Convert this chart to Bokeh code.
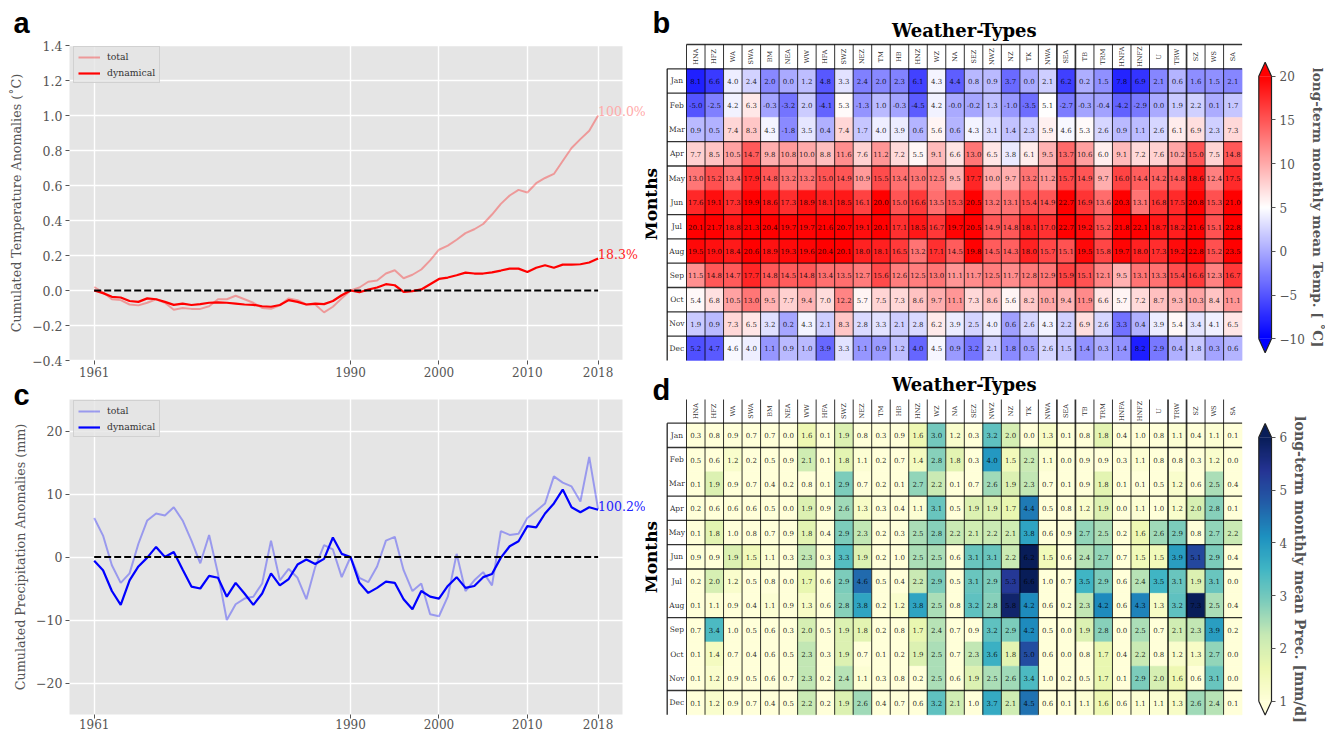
import numpy as np
from bokeh.core.properties import value
from bokeh.embed import file_html
from bokeh.layouts import column, row
from bokeh.models import ColumnDataSource, FixedTicker, Legend, LegendItem, LinearColorMapper, Range1d
from bokeh.plotting import figure
from bokeh.resources import INLINE
from bokeh.transform import transform

years = list(range(1961, 2019))

temp_total = [0.02,-0.01,-0.05,-0.055,-0.08,-0.085,-0.07,-0.05,-0.07,-0.11,-0.10,-0.105,-0.105,-0.09,-0.05,-0.05,-0.03,-0.05,-0.07,-0.10,-0.105,-0.085,-0.045,-0.055,-0.08,-0.08,-0.125,-0.093,-0.045,0.0,0.017,0.05,0.057,0.097,0.116,0.07,0.09,0.12,0.172,0.233,0.256,0.29,0.328,0.35,0.38,0.434,0.495,0.543,0.575,0.56,0.613,0.643,0.666,0.74,0.814,0.865,0.913,1.0]
temp_dyn = [0.0,-0.015,-0.036,-0.04,-0.06,-0.065,-0.045,-0.05,-0.065,-0.082,-0.075,-0.083,-0.078,-0.07,-0.068,-0.07,-0.075,-0.08,-0.082,-0.09,-0.093,-0.083,-0.055,-0.065,-0.08,-0.075,-0.078,-0.06,-0.027,0.0,-0.01,0.005,0.017,0.036,0.03,-0.008,-0.004,0.006,0.036,0.066,0.074,0.087,0.102,0.097,0.097,0.104,0.114,0.125,0.125,0.106,0.13,0.144,0.13,0.148,0.148,0.15,0.16,0.183]
prec_total = [6.2,3.4,-1.3,-4.1,-2.6,2.1,5.8,6.9,6.6,7.9,5.8,2.6,-1.0,3.5,-2.6,-10.0,-7.5,-6.6,-6.3,-4.2,2.6,-3.7,-1.9,-3.3,-6.7,-1.6,1.9,1.2,-3.2,0.0,-3.3,-4.0,-1.5,2.6,3.2,-2.1,-5.4,-4.2,-9.1,-9.4,-6.3,0.5,-5.4,-3.7,-2.4,-4.5,4.1,3.5,3.7,6.2,7.3,8.5,12.8,11.8,11.2,8.8,15.9,7.6]
prec_dyn = [-0.6,-2.1,-5.4,-7.6,-3.7,-1.5,-0.1,1.6,0.0,0.8,-2.0,-4.7,-5.0,-3.0,-3.3,-6.3,-4.1,-5.8,-7.6,-5.8,-2.6,-4.5,-3.5,-1.2,-0.4,-1.1,-0.3,3.1,0.5,0.0,-4.1,-5.7,-4.9,-3.9,-4.1,-6.7,-8.3,-5.4,-6.3,-6.6,-4.6,-3.2,-4.9,-4.6,-3.2,-2.7,-0.1,1.7,2.5,4.9,4.7,6.9,8.5,10.7,7.9,7.1,7.9,7.5]

x_tick_years = [1961, 1990, 2000, 2010, 2018]
temp_ticks = [-0.4,-0.2,0.0,0.2,0.4,0.6,0.8,1.0,1.2,1.4]
prec_ticks = [-20,-10,0,10,20]

weather_types = ["HNA","HFZ","WA","SWA","BM","NEA","WW","HFA","SWZ","NEZ","TM","HB","HNZ","WZ","NA","SEZ","NWZ","NZ","TK","NWA","SEA","TB","TRM","HNFA","HNFZ","U","TRW","SZ","WS","SA"]
months = ["Jan","Feb","Mar","Apr","May","Jun","Jul","Aug","Sep","Oct","Nov","Dec"]
months_without_minus = {"Jan", "Nov", "Dec"}

temp_jan = [-8.1,-6.6,4.0,2.4,-2.0,0.0,1.2,-4.8,3.3,-2.4,-2.0,-2.3,-6.1,4.3,-4.4,0.8,0.9,-3.7,0.0,2.1,-6.2,0.2,-1.5,-7.8,-6.9,-2.1,0.6,-1.6,-1.5,-2.1]
temp_feb = [-5.0,-2.5,4.2,6.3,-0.3,-3.2,2.0,-4.1,5.3,-1.3,1.0,-0.3,-4.5,4.2,-0.0,-0.2,1.3,-1.0,-3.5,5.1,-2.7,-0.3,-0.4,-4.2,-2.9,0.0,1.9,2.2,0.1,1.7]
temp_mar = [0.9,0.5,7.4,8.3,4.3,-1.8,3.5,0.4,7.4,1.7,4.0,3.9,0.6,5.6,0.6,4.3,3.1,1.4,2.3,5.9,4.6,5.3,2.6,0.9,1.1,2.6,6.1,6.9,2.3,7.3]
temp_apr = [7.7,8.5,10.5,14.7,9.8,10.8,10.0,8.8,11.6,7.6,11.2,7.2,5.5,9.1,6.6,13.0,6.5,3.8,6.1,9.5,13.7,10.6,6.0,9.1,7.2,7.6,10.2,15.0,7.5,14.8]
temp_may = [13.0,15.2,13.4,17.9,14.8,13.2,13.2,15.0,14.9,10.9,15.5,13.4,13.0,12.5,9.5,17.7,10.0,9.7,13.2,11.2,15.7,14.9,9.7,16.0,14.4,14.2,14.8,18.6,12.4,17.5]
temp_jun = [17.6,19.1,17.3,19.9,18.6,17.3,18.9,18.1,18.5,16.1,20.0,15.0,16.6,13.5,15.3,20.5,13.2,13.1,15.4,14.9,22.7,16.9,13.6,20.3,13.1,16.8,17.5,20.8,15.3,21.0]
temp_jul = [20.1,21.7,18.8,21.3,20.4,19.7,19.7,21.6,20.7,19.1,20.1,17.1,18.5,16.7,19.7,20.5,14.9,14.8,18.1,17.0,22.7,19.2,15.2,21.8,22.1,18.7,18.2,21.6,15.1,22.8]
temp_aug = [19.5,19.0,18.4,20.6,18.9,19.3,19.6,20.4,20.1,18.0,18.1,16.5,13.2,17.1,14.5,19.8,14.5,14.3,18.0,15.7,15.1,19.5,15.8,19.7,18.0,17.3,19.2,22.8,15.2,23.5]
temp_sep = [11.5,14.8,14.7,17.7,14.8,14.5,14.8,13.4,13.5,12.7,15.6,12.6,12.5,13.0,11.1,11.7,12.5,11.7,12.8,12.9,15.9,15.1,12.1,9.5,13.1,13.3,15.4,16.6,12.3,16.7]
temp_oct = [5.4,6.8,10.5,13.0,9.5,7.7,9.4,7.0,12.2,5.7,7.5,7.3,8.6,9.7,11.1,7.3,8.6,5.6,8.2,10.1,9.4,11.9,6.6,5.7,7.2,8.7,9.3,10.3,8.4,11.1]
temp_nov = [1.9,0.9,7.3,6.5,3.2,-0.2,4.3,2.1,8.3,2.8,3.3,2.1,2.8,6.2,3.9,2.5,4.0,-0.6,2.6,4.3,2.2,6.9,2.6,-3.3,0.4,3.9,5.4,3.4,4.1,6.5]
temp_dec = [-5.2,-4.7,4.6,4.0,-1.1,0.9,1.0,-3.9,3.3,-1.1,-0.9,1.2,-4.0,4.5,-0.9,-3.2,2.1,-1.8,-0.5,2.6,1.5,-1.4,0.3,-1.4,-8.2,-2.9,0.4,1.8,-0.3,0.6]
temp_rows = [temp_jan,temp_feb,temp_mar,temp_apr,temp_may,temp_jun,temp_jul,temp_aug,temp_sep,temp_oct,temp_nov,temp_dec]

prec_jan = [0.3,0.8,0.9,0.7,0.7,0.0,1.6,0.1,1.9,0.8,0.3,0.9,1.6,3.0,1.2,0.3,3.2,2.0,0.0,1.3,0.1,0.8,1.8,0.4,1.0,0.8,1.1,0.4,1.1,0.1]
prec_feb = [0.5,0.6,1.2,0.2,0.5,0.9,2.1,0.1,1.8,1.1,0.2,0.7,1.4,2.8,1.8,0.3,4.0,1.5,2.2,1.1,0.0,0.9,0.9,0.3,1.1,0.8,0.8,0.3,1.2,0.0]
prec_mar = [0.1,1.9,0.9,0.7,0.4,0.2,0.8,0.1,2.9,0.7,0.2,0.1,2.7,2.2,0.1,0.7,2.6,1.9,2.3,0.7,0.1,0.9,1.8,0.1,0.1,0.5,1.2,0.6,2.5,0.4]
prec_apr = [0.2,0.6,0.6,0.6,0.5,0.0,1.9,0.9,2.6,1.3,0.3,0.4,1.1,3.1,0.5,1.9,1.9,1.7,4.4,0.5,0.8,1.2,1.9,0.0,1.1,1.0,1.2,2.0,2.8,0.1]
prec_may = [0.1,1.8,1.0,0.8,0.7,0.9,1.8,0.4,2.9,2.3,0.2,0.3,2.5,2.8,2.2,2.1,2.2,2.1,3.8,0.6,0.9,2.7,2.5,0.2,1.6,2.6,2.9,0.8,2.7,2.2]
prec_jun = [0.9,0.9,1.9,1.5,1.1,0.3,2.3,0.3,3.3,1.9,0.2,1.0,2.5,2.5,0.6,3.1,3.1,2.2,6.2,1.5,0.6,2.4,2.7,0.7,1.5,1.5,3.9,5.1,2.9,0.4]
prec_jul = [0.2,2.0,1.2,0.5,0.8,0.0,1.7,0.6,2.9,4.6,0.5,0.4,2.2,2.9,0.5,3.1,2.9,5.3,6.6,1.0,0.7,3.5,2.9,0.6,2.4,3.5,3.1,1.9,3.1,0.0]
prec_aug = [0.1,1.1,0.9,0.4,1.1,0.9,1.3,0.6,2.8,3.8,0.2,1.2,3.8,2.5,0.8,3.2,2.8,5.8,4.2,0.6,0.2,2.3,4.2,0.6,4.3,1.3,3.2,7.3,2.5,0.4]
prec_sep = [0.7,3.4,1.0,0.5,0.6,0.3,2.0,0.5,1.9,1.8,0.2,0.8,1.7,2.4,0.7,0.9,3.2,2.9,4.2,0.5,0.0,1.9,2.8,0.0,2.5,0.7,2.1,2.3,3.9,0.2]
prec_oct = [0.1,1.4,0.7,0.4,0.6,0.5,2.3,0.3,1.9,0.7,0.1,0.2,1.9,2.5,0.7,2.3,3.6,1.8,5.0,0.6,0.0,0.8,1.7,0.4,2.2,0.8,1.2,1.3,2.7,0.0]
prec_nov = [0.1,1.2,0.9,0.5,0.6,0.7,2.3,0.2,2.4,1.1,0.3,0.8,0.2,2.5,0.6,1.9,2.5,2.6,3.4,1.0,0.2,0.5,1.7,0.1,2.9,2.0,1.6,0.6,3.1,0.0]
prec_dec = [0.1,1.2,0.9,0.7,0.4,0.5,2.2,0.2,1.9,2.6,0.4,0.7,0.6,3.2,2.1,1.0,3.7,2.1,4.5,0.6,0.1,1.1,1.6,0.6,1.1,1.1,1.3,2.6,2.4,0.1]
prec_rows = [prec_jan,prec_feb,prec_mar,prec_apr,prec_may,prec_jun,prec_jul,prec_aug,prec_sep,prec_oct,prec_nov,prec_dec]

SERIF = "DejaVu Serif"
GREY = "#555555"
YLGNBU = ["#ffffd9","#edf8b1","#c7e9b4","#7fcdbb","#41b6c4","#1d91c0","#225ea8","#253494","#081d58"]
BWR = ["#0000ff", "#ffffff", "#ff0000"]
H_LINES_T = [0, 1, 3, 4, 6, 7, 8, 9, 10, 11]
H_LINES_P = [0, 1, 3, 4, 5, 6, 8, 11]


def ramp(stops, n=256):
    rgb = np.array([[int(s[i:i + 2], 16) for i in (1, 3, 5)] for s in stops], float)
    pos = np.linspace(0, 1, len(stops))
    t = np.linspace(0, 1, n)
    out = np.stack([np.interp(t, pos, rgb[:, c]) for c in range(3)], axis=1)
    return ["#%02x%02x%02x" % tuple(int(round(v)) for v in px) for px in out]


def bare_figure(width, height, x_range, y_range, **kw):
    return figure(width=width, height=height, output_backend="svg", toolbar_location=None,
                  x_range=Range1d(*x_range), y_range=Range1d(*y_range),
                  min_border=0, outline_line_color=None, border_fill_color="white",
                  background_fill_color="white", **kw)


def letter(p, text, x, y):
    p.text(x=[x], y=[y], text=[text], text_font=value("Liberation Sans"), text_font_style="bold",
           text_font_size="29px", text_color="black", text_baseline="alphabetic", text_align="left")


def series_figure(height, top_px, ylim, yticks, ylabels, ylabel, total, dyn, color, notes, letter_text, letter_base_px,
                  legend_bottom, x_standoff):
    x_per_px = 1 / 8.84
    x_lo = 1961 - 93.7 * x_per_px
    x_hi = 1961 + (645 - 93.7) * x_per_px
    frame_h = 315.0
    y_per_px = (ylim[1] - ylim[0]) / frame_h
    y_hi = ylim[1] + top_px * y_per_px
    y_lo = y_hi - height * y_per_px
    y_at = lambda px: y_hi - px * y_per_px
    panel_l, panel_r = 1961 - 24.7 * x_per_px, 1961 + (622 - 93.7) * x_per_px

    p = bare_figure(645, height, (x_lo, x_hi), (y_lo, y_hi))
    p.quad(left=[panel_l], right=[panel_r], bottom=[ylim[0]], top=[ylim[1]], fill_color="#e5e5e5", line_color=None,
           level="image")
    p.xaxis.ticker = FixedTicker(ticks=x_tick_years)
    p.yaxis.ticker = FixedTicker(ticks=yticks)
    p.yaxis.major_label_overrides = dict(zip(yticks, ylabels))
    p.xaxis.fixed_location = ylim[0]
    p.yaxis.fixed_location = panel_l
    p.yaxis.bounds = ylim
    for ax in (p.xaxis[0], p.yaxis[0]):
        ax.axis_line_color = None
        ax.major_tick_line_color = GREY
        ax.major_tick_out = 4
        ax.major_tick_in = 0
        ax.minor_tick_line_color = None
        ax.major_label_text_font = SERIF
        ax.major_label_text_font_size = "12.5px"
        ax.major_label_text_color = GREY
        ax.major_label_standoff = 3
    p.xaxis.major_label_text_font_size = "12px"
    p.xaxis.major_label_standoff = x_standoff
    p.yaxis.axis_label = ylabel
    p.yaxis.axis_label_text_font = SERIF
    p.yaxis.axis_label_text_font_size = "12.7px"
    p.yaxis.axis_label_text_font_style = "normal"
    p.yaxis.axis_label_text_color = GREY
    p.yaxis.axis_label_standoff = 5
    p.grid.grid_line_color = "white"
    p.grid.grid_line_width = 1.4

    src = ColumnDataSource(dict(year=years, total=total, dyn=dyn, zero=[0] * len(years)))
    r_total = p.line("year", "total", source=src, line_color=color, line_alpha=0.33, line_width=2)
    r_dyn = p.line("year", "dyn", source=src, line_color=color, line_width=2.2)
    p.line("year", "zero", source=src, line_color="black", line_width=2, line_dash="7 3")

    legend = Legend(items=[LegendItem(label="total", renderers=[r_total]),
                           LegendItem(label="dynamical", renderers=[r_dyn])],
                    location=(73, legend_bottom), label_text_font=SERIF, label_text_font_size="9.3px",
                    label_text_color="#333333", label_standoff=7, glyph_width=22, glyph_height=10,
                    label_height=10, spacing=5, padding=4, margin=0,
                    background_fill_color="#e5e5e5", background_fill_alpha=0.8,
                    border_line_color="#cccccc", border_line_alpha=0.8)
    p.add_layout(legend)

    for val, txt, col, dy in notes:
        p.text(x=[years[-1]], y=[val], text=[txt], text_color=col, text_font=value(SERIF),
               text_font_size="12.5px", text_baseline="middle", y_offset=dy)
    letter(p, letter_text, x_lo + 13 * x_per_px, y_at(letter_base_px))
    return p


def heat_figure(height, grid_top_px, rows, mapper, hlines, show_minus, head_top, letter_base_px, title_base_px, months_mid_px):
    col_w, row_h = 18.52, 24.3
    grid_left = 686 - 645
    x_lo = -grid_left / col_w
    x_hi = x_lo + 605 / col_w
    y_hi = 12 + grid_top_px / row_h
    y_lo = y_hi - height / row_h
    y_at = lambda px: 12 + (grid_top_px - px) / row_h
    box_left = -(686 - 666.7) / col_w

    p = bare_figure(605, height, (x_lo, x_hi), (y_lo, y_hi))
    p.xaxis.visible = False
    p.yaxis.visible = False
    p.grid.visible = False

    xs, ys, vals, txt = [], [], [], []
    for m, (name, row_vals) in enumerate(zip(months, rows)):
        for c, v in enumerate(row_vals):
            xs.append(c + 0.5)
            ys.append(11.5 - m)
            vals.append(v)
            shown = abs(v) if (not show_minus or name in months_without_minus) else v
            txt.append(f"{shown:.1f}")
    src = ColumnDataSource(dict(x=xs, y=ys, v=vals, t=txt))
    p.rect("x", "y", width=1, height=1, source=src, fill_color=transform("v", mapper),
           line_color=transform("v", mapper), line_width=0.5)

    v_x = list(range(0, 30))
    v_w = [1.7 if i in (20, 21, 26, 27) else 1.0 for i in v_x]
    p.segment(x0=v_x, y0=[0] * 30, x1=v_x, y1=[head_top] * 30, line_color="black", line_alpha=0.8, line_width=v_w)
    h_y = [12 - i for i in hlines]
    p.segment(x0=[box_left] * len(h_y), y0=h_y, x1=[30] * len(h_y), y1=h_y, line_color="black", line_alpha=0.8,
              line_width=1.3)
    p.segment(x0=[box_left], y0=[0], x1=[box_left], y1=[12], line_color="black", line_alpha=0.8, line_width=1.4)
    if head_top == 13:
        p.segment(x0=[0], y0=[13], x1=[30], y1=[13], line_color="black", line_alpha=0.8, line_width=1.4)

    p.text("x", "y", text="t", source=src, text_align="center", text_baseline="middle",
           text_font=value(SERIF), text_font_size="7px", text_color="black", text_alpha=0.85)
    p.text(x=[c + 0.5 for c in range(30)], y=[12.5] * 30, text=weather_types, angle=np.pi / 2,
           text_align="center", text_baseline="middle", text_font=value(SERIF), text_font_size="6.5px",
           text_color="black", text_alpha=0.85)
    p.text(x=[box_left / 2] * 12, y=[11.5 - m for m in range(12)], text=months, text_align="center",
           text_baseline="middle", text_font=value(SERIF), text_font_size="7.5px", text_color="black", text_alpha=0.85)
    p.text(x=[15], y=[y_at(title_base_px)], text=["Weather-Types"], text_align="center", text_font=value(SERIF),
           text_font_style="bold", text_font_size="18px", text_color="black", text_baseline="alphabetic")
    p.text(x=[(650 - 686) / col_w], y=[y_at(months_mid_px)], text=["Months"], angle=np.pi / 2, text_align="center",
           text_baseline="middle", text_font=value(SERIF), text_font_style="bold", text_font_size="17px",
           text_color="black")
    letter(p, "b" if show_minus else "d", (652 - 686) / col_w, y_at(letter_base_px))
    return p


def bar_figure(height, tick_hi_px, tick_lo_px, tip_px, vlim, ticks, tick_labels, palette, label, label_size):
    lo, hi = vlim
    per_px = (hi - lo) / (tick_lo_px - tick_hi_px)
    y_hi = hi + tick_hi_px * per_px
    y_lo = y_hi - height * per_px
    tip_hi = hi + tip_px * per_px
    tip_lo = lo - tip_px * per_px
    x_lo = -8.3 / 12.7
    x_hi = x_lo + 75 / 12.7

    p = bare_figure(75, height, (x_lo, x_hi), (y_lo, y_hi), y_axis_location="right")
    p.xaxis.visible = False
    p.grid.visible = False
    m = LinearColorMapper(palette=palette, low=lo, high=hi)
    grad = np.linspace(lo, hi, 256).reshape(-1, 1)
    p.image(image=[grad], x=0, y=lo, dw=1, dh=hi - lo, color_mapper=m)
    p.patch(x=[0, 0.5, 1], y=[hi, tip_hi, hi], fill_color=palette[-1], line_color=None)
    p.patch(x=[0, 0.5, 1], y=[lo, tip_lo, lo], fill_color=palette[0], line_color=None)
    p.line(x=[0, 0, 0.5, 1, 1, 0.5, 0], y=[lo, hi, tip_hi, hi, lo, tip_lo, lo], line_color="#222222", line_width=1.2)
    ax = p.yaxis[0]
    ax.fixed_location = 1
    ax.bounds = (lo, hi)
    ax.ticker = FixedTicker(ticks=ticks)
    ax.major_label_overrides = dict(zip(ticks, tick_labels))
    ax.axis_line_color = None
    ax.major_tick_line_color = GREY
    ax.major_tick_in = 0
    ax.major_tick_out = 4
    ax.minor_tick_line_color = None
    ax.major_label_text_font = SERIF
    ax.major_label_text_font_size = "12px"
    ax.major_label_text_color = GREY
    ax.major_label_standoff = 4
    ax.axis_label = label
    ax.axis_label_text_font = SERIF
    ax.axis_label_text_font_style = "bold"
    ax.axis_label_text_font_size = label_size
    ax.axis_label_text_color = GREY
    ax.axis_label_standoff = 2
    return p


fig_a = series_figure(380, 45, (-0.4, 1.4), temp_ticks,
                      ["\u22120.4", "\u22120.2", "0.0", "0.2", "0.4", "0.6", "0.8", "1.0", "1.2", "1.4"],
                      "Cumulated Temperature Anomalies (\u02daC)", temp_total, temp_dyn, "#ff0000",
                      [(temp_total[-1], "100.0%", "#ffaaaa", -4), (temp_dyn[-1], "18.3%", "#ff2222", -4)], "a", 22.5, 297, 2)
fig_c = series_figure(352, 19, (-25, 25), prec_ticks,
                      ["\u221220", "\u221210", "0", "10", "20"],
                      "Cumulated Precipitation Anomalies (mm)", prec_total, prec_dyn, "#0000ff",
                      [(prec_dyn[-1], "100.2%", "#2222ff", -3)], "c", 14.5, 295, 0)

pal_t = ramp(BWR)
pal_p = ramp(YLGNBU)
map_t = LinearColorMapper(palette=pal_t, low=-10, high=20)
map_p = LinearColorMapper(palette=pal_p, low=1, high=6)

fig_b = heat_figure(372, 68.3, temp_rows, map_t, H_LINES_T, True, 13, 22.5, 30, 203.5)
fig_d = heat_figure(360, 50.7, prec_rows, map_p, H_LINES_P, False, 12.975, 17.5, 12, 184.5)

bar_b = bar_figure(372, 75.7, 338.3, 14, (-10, 20), [-10, -5, 0, 5, 10, 15, 20],
                   ["\u221210", "\u22125", "0", "5", "10", "15", "20"], pal_t,
                   "long-term monthly mean Temp. [ \u02daC]", "13.6px")
bar_d = bar_figure(360, 64.7, 328.7, 13.7, (1, 6), [1, 2, 3, 4, 5, 6],
                   ["1", "2", "3", "4", "5", "6"], pal_p,
                   "long-term monthly mean Prec. [mm/d]", "14.2px")

page = row(column(fig_a, fig_c, spacing=0), column(fig_b, fig_d, spacing=0), column(bar_b, bar_d, spacing=0),
           spacing=0, margin=(0, 0, 0, 0))

open("out.html", "w").write(file_html(page, INLINE))
